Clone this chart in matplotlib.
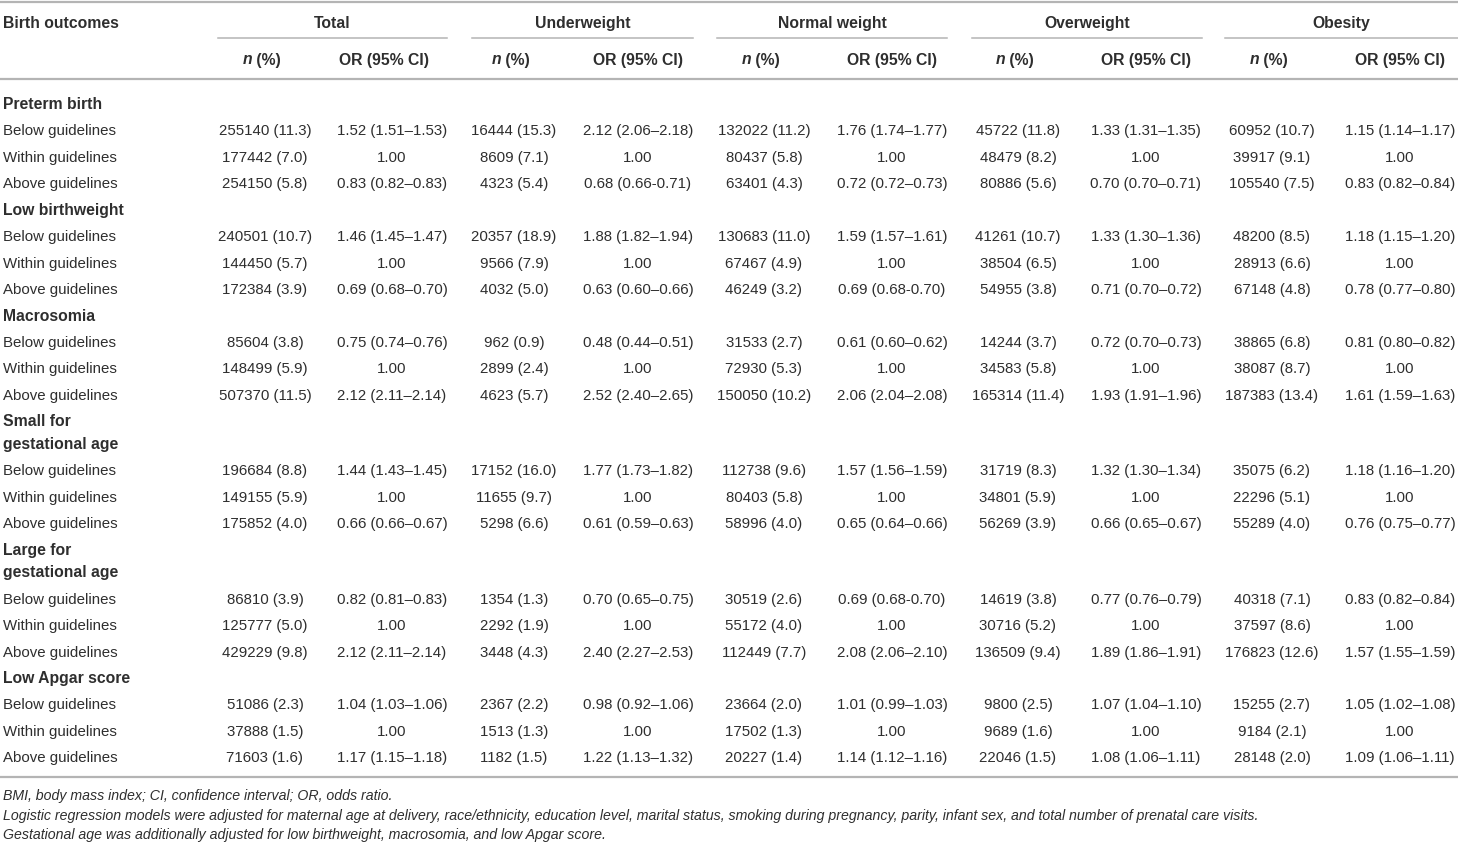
import matplotlib
matplotlib.use("Agg")
import matplotlib.pyplot as plt

plt.rcParams['font.family'] = ['Liberation Sans', 'DejaVu Sans']

groups = ["Total", "Underweight", "Normal weight", "Overweight", "Obesity"]
outcomes = ["Preterm birth", "Low birthweight", "Macrosomia",
            "Small for\ngestational age", "Large for\ngestational age", "Low Apgar score"]
levels = ["Below guidelines", "Within guidelines", "Above guidelines"]

n_total = ["255140 (11.3)", "177442 (7.0)", "254150 (5.8)",
           "240501 (10.7)", "144450 (5.7)", "172384 (3.9)",
           "85604 (3.8)", "148499 (5.9)", "507370 (11.5)",
           "196684 (8.8)", "149155 (5.9)", "175852 (4.0)",
           "86810 (3.9)", "125777 (5.0)", "429229 (9.8)",
           "51086 (2.3)", "37888 (1.5)", "71603 (1.6)"]
or_total = ["1.52 (1.51–1.53)", "1.00", "0.83 (0.82–0.83)",
            "1.46 (1.45–1.47)", "1.00", "0.69 (0.68–0.70)",
            "0.75 (0.74–0.76)", "1.00", "2.12 (2.11–2.14)",
            "1.44 (1.43–1.45)", "1.00", "0.66 (0.66–0.67)",
            "0.82 (0.81–0.83)", "1.00", "2.12 (2.11–2.14)",
            "1.04 (1.03–1.06)", "1.00", "1.17 (1.15–1.18)"]
n_under = ["16444 (15.3)", "8609 (7.1)", "4323 (5.4)",
           "20357 (18.9)", "9566 (7.9)", "4032 (5.0)",
           "962 (0.9)", "2899 (2.4)", "4623 (5.7)",
           "17152 (16.0)", "11655 (9.7)", "5298 (6.6)",
           "1354 (1.3)", "2292 (1.9)", "3448 (4.3)",
           "2367 (2.2)", "1513 (1.3)", "1182 (1.5)"]
or_under = ["2.12 (2.06–2.18)", "1.00", "0.68 (0.66-0.71)",
            "1.88 (1.82–1.94)", "1.00", "0.63 (0.60–0.66)",
            "0.48 (0.44–0.51)", "1.00", "2.52 (2.40–2.65)",
            "1.77 (1.73–1.82)", "1.00", "0.61 (0.59–0.63)",
            "0.70 (0.65–0.75)", "1.00", "2.40 (2.27–2.53)",
            "0.98 (0.92–1.06)", "1.00", "1.22 (1.13–1.32)"]
n_normal = ["132022 (11.2)", "80437 (5.8)", "63401 (4.3)",
            "130683 (11.0)", "67467 (4.9)", "46249 (3.2)",
            "31533 (2.7)", "72930 (5.3)", "150050 (10.2)",
            "112738 (9.6)", "80403 (5.8)", "58996 (4.0)",
            "30519 (2.6)", "55172 (4.0)", "112449 (7.7)",
            "23664 (2.0)", "17502 (1.3)", "20227 (1.4)"]
or_normal = ["1.76 (1.74–1.77)", "1.00", "0.72 (0.72–0.73)",
             "1.59 (1.57–1.61)", "1.00", "0.69 (0.68-0.70)",
             "0.61 (0.60–0.62)", "1.00", "2.06 (2.04–2.08)",
             "1.57 (1.56–1.59)", "1.00", "0.65 (0.64–0.66)",
             "0.69 (0.68-0.70)", "1.00", "2.08 (2.06–2.10)",
             "1.01 (0.99–1.03)", "1.00", "1.14 (1.12–1.16)"]
n_over = ["45722 (11.8)", "48479 (8.2)", "80886 (5.6)",
          "41261 (10.7)", "38504 (6.5)", "54955 (3.8)",
          "14244 (3.7)", "34583 (5.8)", "165314 (11.4)",
          "31719 (8.3)", "34801 (5.9)", "56269 (3.9)",
          "14619 (3.8)", "30716 (5.2)", "136509 (9.4)",
          "9800 (2.5)", "9689 (1.6)", "22046 (1.5)"]
or_over = ["1.33 (1.31–1.35)", "1.00", "0.70 (0.70–0.71)",
           "1.33 (1.30–1.36)", "1.00", "0.71 (0.70–0.72)",
           "0.72 (0.70–0.73)", "1.00", "1.93 (1.91–1.96)",
           "1.32 (1.30–1.34)", "1.00", "0.66 (0.65–0.67)",
           "0.77 (0.76–0.79)", "1.00", "1.89 (1.86–1.91)",
           "1.07 (1.04–1.10)", "1.00", "1.08 (1.06–1.11)"]
n_obese = ["60952 (10.7)", "39917 (9.1)", "105540 (7.5)",
           "48200 (8.5)", "28913 (6.6)", "67148 (4.8)",
           "38865 (6.8)", "38087 (8.7)", "187383 (13.4)",
           "35075 (6.2)", "22296 (5.1)", "55289 (4.0)",
           "40318 (7.1)", "37597 (8.6)", "176823 (12.6)",
           "15255 (2.7)", "9184 (2.1)", "28148 (2.0)"]
or_obese = ["1.15 (1.14–1.17)", "1.00", "0.83 (0.82–0.84)",
            "1.18 (1.15–1.20)", "1.00", "0.78 (0.77–0.80)",
            "0.81 (0.80–0.82)", "1.00", "1.61 (1.59–1.63)",
            "1.18 (1.16–1.20)", "1.00", "0.76 (0.75–0.77)",
            "0.83 (0.82–0.84)", "1.00", "1.57 (1.55–1.59)",
            "1.05 (1.02–1.08)", "1.00", "1.09 (1.06–1.11)"]

footnotes = [
    "BMI, body mass index; CI, confidence interval; OR, odds ratio.",
    "Logistic regression models were adjusted for maternal age at delivery, race/ethnicity, education level, "
    "marital status, smoking during pregnancy, parity, infant sex, and total number of prenatal care visits.",
    "Gestational age was additionally adjusted for low birthweight, macrosomia, and low Apgar score.",
]

columns = [(n_total, or_total), (n_under, or_under), (n_normal, or_normal),
           (n_over, or_over), (n_obese, or_obese)]

# layout (pixel coordinates, text placed on its baseline)
W, H = 1458, 845
n_x = [265, 514, 764, 1018, 1272]
or_x = [392, 638, 892, 1146, 1400]
or_head_x = [384, 638, 892, 1146, 1400]
span = [(218, 447), (472, 693), (717, 947), (972, 1202), (1225, 1458)]
text_color = "#2e2e2e"
line_color = "#b4b4b4"
fs = 10.8      # body text
fsb = 11.3     # bold headers

fig = plt.figure(figsize=(W / 100, H / 100), dpi=100)
ax = fig.add_axes([0, 0, 1, 1])
ax.set_xlim(0, W)
ax.set_ylim(H, 0)
ax.axis('off')
renderer = fig.canvas.get_renderer()

# rules
ax.plot([0, W], [3, 3], color=line_color, lw=1.6)
ax.plot([0, W], [80, 80], color=line_color, lw=1.6)
ax.plot([0, W], [777.5, 777.5], color=line_color, lw=1.6)
for x0, x1 in span:
    ax.plot([x0, x1], [39, 39], color=line_color, lw=1.1)

# header
ax.text(3, 27.7, "Birth outcomes", fontsize=fsb, fontweight='bold', color=text_color,
        ha='left', va='baseline')
for g, (x0, x1) in zip(groups, span):
    ax.text((x0 + x1) / 2, 27.7, g, fontsize=fsb, fontweight='bold', color=text_color,
            ha='center', va='baseline')


def width_of(s, **kw):
    t = ax.text(0, 0, s, fontsize=fsb, **kw)
    w = t.get_window_extent(renderer).width
    t.remove()
    return w


wn = width_of("n", fontweight='bold', fontstyle='italic')
wr = width_of(" (%)", fontweight='bold')
for i in range(len(groups)):
    left = n_x[i] - 3 - (wn + wr) / 2
    ax.text(left, 64.5, "n", fontsize=fsb, fontweight='bold', fontstyle='italic',
            color=text_color, ha='left', va='baseline')
    ax.text(left + wn, 64.5, " (%)", fontsize=fsb, fontweight='bold',
            color=text_color, ha='left', va='baseline')
    ax.text(or_head_x[i], 64.5, "OR (95% CI)", fontsize=fsb, fontweight='bold',
            color=text_color, ha='center', va='baseline')

# body
step = 26.45
wrap_step = 22.5
y = 109
row = 0
for outcome in outcomes:
    parts = outcome.split("\n")
    for k, p in enumerate(parts):
        ax.text(3, y, p, fontsize=fsb, fontweight='bold', color=text_color,
                ha='left', va='baseline')
        if k < len(parts) - 1:
            y += wrap_step
    y += step
    for lev in levels:
        ax.text(3, y, lev, fontsize=fs, color=text_color, ha='left', va='baseline')
        for i, (ns, ors) in enumerate(columns):
            ax.text(n_x[i], y, ns[row], fontsize=fs, color=text_color,
                    ha='center', va='baseline')
            ax.text(or_x[i], y, ors[row], fontsize=fs, color=text_color,
                    ha='center', va='baseline')
        row += 1
        y += step

# footnotes
for j, note in enumerate(footnotes):
    ax.text(3, 800.5 + 19.5 * j, note, fontsize=10.15, fontstyle='italic',
            color=text_color, ha='left', va='baseline')

fig.savefig("out.png", dpi=100, facecolor='white')
